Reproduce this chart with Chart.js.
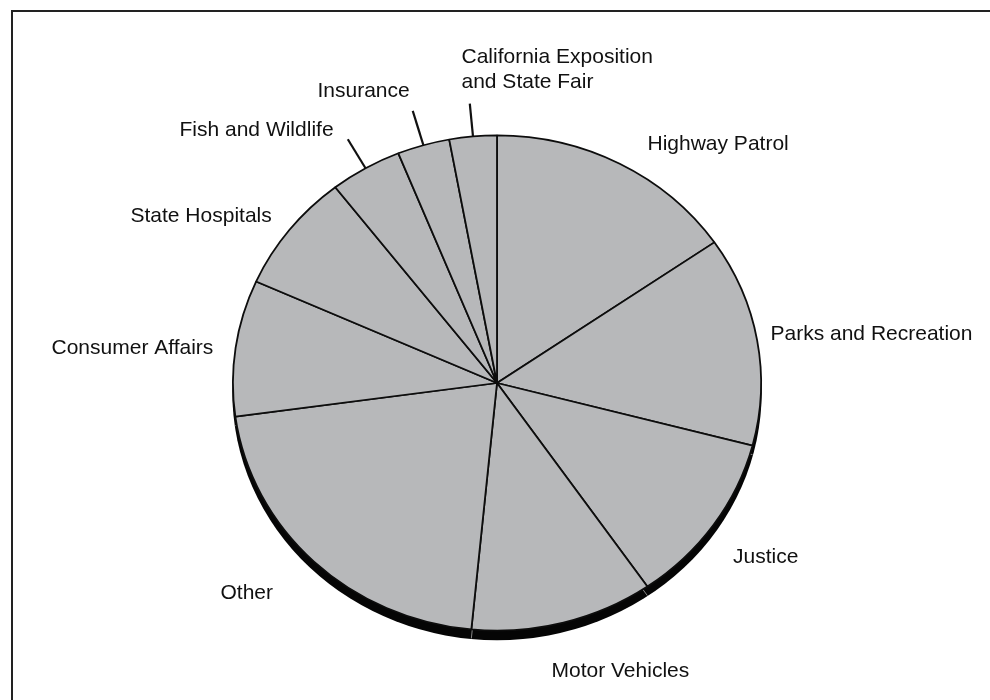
<!DOCTYPE html>
<html>
<head>
<meta charset="utf-8">
<script src="https://cdn.jsdelivr.net/npm/chart.js@4.4.1/dist/chart.umd.min.js"></script>
<style>
  html, body { margin: 0; padding: 0; background: #fff; }
  #wrap { position: relative; width: 990px; height: 700px; overflow: hidden; }
  #frame { position: absolute; left: 11px; top: 10px; width: 1000px; height: 720px;
           border-top: 2px solid #222; border-left: 2px solid #222; }
  #budgetPie { position: absolute; left: 0; top: 0; }
</style>
</head>
<body>
<div id="wrap">
  <div id="frame"></div>
  <canvas id="budgetPie" width="990" height="700"></canvas>
</div>
<script>
// slices clockwise from 12 o'clock
const departments = [
    "Highway Patrol",
    "Parks and Recreation",
    "Justice",
    "Motor Vehicles",
    "Other",
    "Consumer Affairs",
    "State Hospitals",
    "Fish and Wildlife",
    "Insurance",
    ["California Exposition", "and State Fair"],
];
const shares = [15.4, 13.7, 11.3, 11.2, 21.3, 8.9, 7.8, 4.4, 3.2, 2.9];

// label placement, offsets from pie centre (text baseline)
const labelLayout = [
    { dx: 150.5, dy: -233 },
    { dx: 273.5, dy: -43 },
    { dx: 236, dy: 180 },
    { dx: 54.5, dy: 294 },
    { dx: -276.5, dy: 216 },
    { dx: -445.5, dy: -29 },
    { dx: -366.5, dy: -161 },
    { dx: -317.5, dy: -247, leader: 34 },
    { dx: -179.5, dy: -286, leader: 36 },
    { dx: -35.5, dy: -320, leader: 33 },
];

const pieTilt = 0.9376;   // vertical squash of the disc
const pieDepth = 9;       // thickness of the dark rim

const tiltPlugin = {
    id: "tilt",
    beforeDatasetsDraw(chart) {
        const ctx = chart.ctx;
        const arcs = chart.getDatasetMeta(0).data;
        const cx = arcs[0].x, cy = arcs[0].y, r = arcs[0].outerRadius;
        ctx.save();
        ctx.translate(cx, cy);
        ctx.scale(1, pieTilt);
        ctx.translate(-cx, -cy);

        // rim under the disc
        ctx.save();
        ctx.translate(0, pieDepth / pieTilt);
        ctx.beginPath();
        ctx.arc(cx, cy, r + 0.6, 0, Math.PI * 2);
        ctx.fillStyle = "#050505";
        ctx.fill();
        ctx.strokeStyle = "#8c8c8c";
        ctx.lineWidth = 1;
        arcs.forEach(function (a) {
            ctx.beginPath();
            ctx.moveTo(cx + (r - 14) * Math.cos(a.startAngle), cy + (r - 14) * Math.sin(a.startAngle));
            ctx.lineTo(cx + r * Math.cos(a.startAngle), cy + r * Math.sin(a.startAngle));
            ctx.stroke();
        });
        ctx.restore();
    },
    afterDatasetsDraw(chart) {
        chart.ctx.restore();
    },
};

const labelPlugin = {
    id: "sliceLabels",
    afterDraw(chart) {
        const ctx = chart.ctx;
        const arcs = chart.getDatasetMeta(0).data;
        const cx = arcs[0].x, cy = arcs[0].y, r = arcs[0].outerRadius;
        ctx.save();
        ctx.font = '21px "Liberation Sans", Arial, sans-serif';
        ctx.fillStyle = "#111111";
        ctx.textAlign = "left";
        ctx.textBaseline = "alphabetic";
        arcs.forEach(function (a, i) {
            const lay = labelLayout[i];
            const lines = Array.isArray(departments[i]) ? departments[i] : [departments[i]];
            lines.forEach(function (ln, k) {
                ctx.fillText(ln, cx + lay.dx, cy + lay.dy + k * 25);
            });
            if (lay.leader) {
                const mid = (a.startAngle + a.endAngle) / 2;
                const ex = cx + r * Math.cos(mid);
                const ey = cy + r * pieTilt * Math.sin(mid);
                const len = Math.hypot(ex - cx, ey - cy);
                ctx.beginPath();
                ctx.moveTo(ex, ey);
                ctx.lineTo(ex + (ex - cx) / len * lay.leader, ey + (ey - cy) / len * lay.leader);
                ctx.lineWidth = 2.2;
                ctx.strokeStyle = "#111111";
                ctx.stroke();
            }
        });
        ctx.restore();
    },
};

const pieCtx = document.getElementById("budgetPie").getContext("2d");
const budgetPie = new Chart(pieCtx, {
    type: "pie",
    data: {
        labels: departments,
        datasets: [{
            data: shares,
            backgroundColor: "#b7b8ba",
            borderColor: "#0d0d0d",
            borderWidth: 1.8,
            hoverOffset: 0,
            clip: false,
        }],
    },
    options: {
        responsive: false,
        animation: false,
        devicePixelRatio: 1,
        layout: {
            padding: { left: 232, right: 228, top: 118, bottom: 52 },
        },
        plugins: {
            legend: { display: false },
            tooltip: { enabled: false },
        },
    },
    plugins: [tiltPlugin, labelPlugin],
});
</script>
</body>
</html>
